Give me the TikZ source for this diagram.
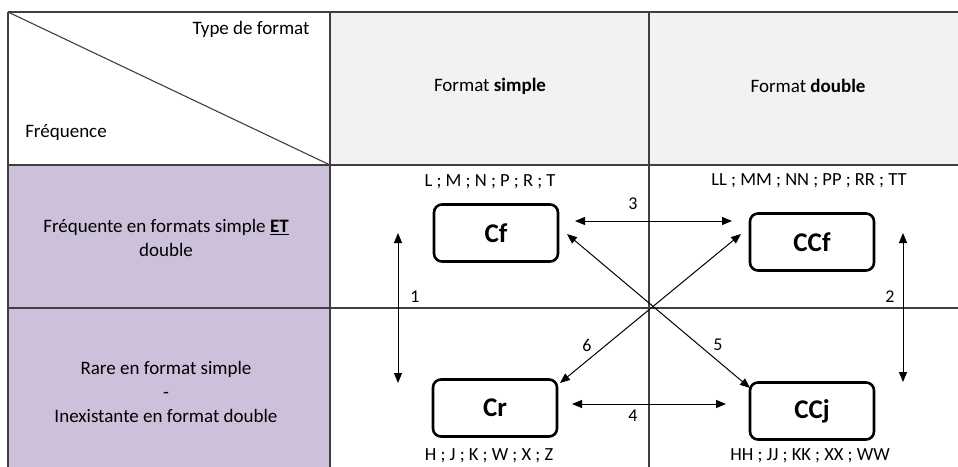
\documentclass[tikz,border=0pt]{standalone}
\usepackage{fontspec}
\setmainfont{Carlito}
\usetikzlibrary{positioning, arrows.meta}
\definecolor{headgray}{HTML}{F2F2F2}
\definecolor{rowpurple}{HTML}{CCC0DA}
\definecolor{gridline}{HTML}{3F3F3F}

\begin{document}
\begin{tikzpicture}[x=1pt, y=-1pt,
    grid/.style={draw=gridline, line width=1.1pt},
    catbox/.style={draw, line width=2.6pt, rounded corners=8pt,
        minimum width=124pt, minimum height=57pt,
        font=\fontsize{27}{30}\selectfont\bfseries},
    txt/.style={font=\fontsize{19}{24}\selectfont, align=center, inner sep=1pt},
    lbl/.style={font=\fontsize{18.5}{22}\selectfont, inner sep=1pt},
    num/.style={font=\fontsize{18}{22}\selectfont, inner sep=1pt},
    arr/.style={{Triangle[length=10pt,width=8pt]}-{Triangle[length=10pt,width=8pt]},
        line width=1pt},
  ]
  \useasboundingbox (0,0) rectangle (958,466);
  \clip (0,0) rectangle (958,466);

  % Cell fills
  \fill[headgray] (330,12) rectangle (970,165);
  \fill[rowpurple] (8,165) rectangle (330,476);

  % Grid lines
  \foreach \y in {12, 165, 308} {
      \draw[grid] (8,\y) -- (970,\y);
    }
  \foreach \x in {8, 330, 649} {
      \draw[grid] (\x,12) -- (\x,476);
    }
  \draw[grid] (8,476) -- (970,476);
  \draw[grid] (8,12) -- (330,165);

  % Headers
  \node[txt] (typefmt) at (251,29) {Type de format};
  \node[txt] (freq) at (66,133) {Fréquence};
  \node[txt] (fsimple) at (490,86) {Format \textbf{simple}};
  \node[txt] (fdouble) at (808,86) {Format \textbf{double}};
  \node[txt] (rowfreq) at (166,238) {Fréquente en formats simple \underline{\textbf{ET}}\\double};
  \node[txt] (rowrare) at (166,392) {Rare en format simple\\-\\Inexistante en format double};

  % Categories
  \node[catbox] (cf) at (496,233) {Cf};
  \node[catbox] (ccf) at (812,242) {CCf};
  \node[catbox] (cr) at (495,408) {Cr};
  \node[catbox] (ccj) at (812,411) {CCj};

  % Member lists
  \node[lbl] (cflist) at (490,182) {L ; M ; N ; P ; R ; T};
  \node[lbl] (ccflist) at (809,181) {LL ; MM ; NN ; PP ; RR ; TT};
  \node[lbl, anchor=base] (crlist) at (489,460) {H ; J ; K ; W ; X ; Z};
  \node[lbl, anchor=base] (ccjlist) at (810,460) {HH ; JJ ; KK ; XX ; WW};

  % Arrow ends
  \coordinate (a1top) at (398,233);
  \coordinate (a1bot) at (398,383);
  \coordinate (a2top) at (903,233);
  \coordinate (a2bot) at (903,382);
  \coordinate (a3l) at (575,221);
  \coordinate (a3r) at (732,221);
  \coordinate (a4l) at (572,404);
  \coordinate (a4r) at (726,404);
  \coordinate (a5a) at (567,234);
  \coordinate (a5b) at (750,388);
  \coordinate (a6a) at (741,234);
  \coordinate (a6b) at (560,383);

  % Transitions
  \draw[arr] (a1top) -- (a1bot);
  \draw[arr] (a2top) -- (a2bot);
  \draw[arr] (a3l) -- (a3r);
  \draw[arr] (a4l) -- (a4r);
  \draw[arr] (a5a) -- (a5b);
  \draw[arr] (a6a) -- (a6b);

  % Transition numbers
  \node[num] (n1) at (415,297) {1};
  \node[num] (n2) at (890,297) {2};
  \node[num] (n3) at (633,204) {3};
  \node[num] (n4) at (633,416) {4};
  \node[num] (n5) at (718,345) {5};
  \node[num] (n6) at (587,345) {6};
\end{tikzpicture}
\end{document}
